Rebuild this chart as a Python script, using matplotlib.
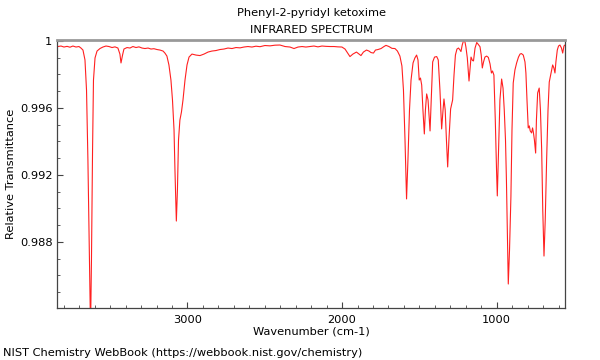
import matplotlib
matplotlib.use('Agg')
import matplotlib.pyplot as plt
from matplotlib.ticker import MultipleLocator, FuncFormatter

# spectrum (wavenumber in cm-1, relative transmittance)
wavenumber = [
    3838, 3818, 3799, 3779, 3760, 3741, 3721, 3702, 3689, 3676,
    3663, 3653, 3644, 3634, 3627, 3621, 3614, 3608, 3598, 3585,
    3566, 3547, 3527, 3508, 3488, 3469, 3450, 3437, 3430, 3420,
    3411, 3391, 3372, 3353, 3333, 3314, 3294, 3275, 3255, 3236,
    3217, 3197, 3178, 3158, 3146, 3133, 3120, 3107, 3097, 3087,
    3081, 3072, 3065, 3058, 3049, 3039, 3029, 3016, 3003, 2990,
    2971, 2945, 2919, 2893, 2867, 2842, 2816, 2790, 2764, 2738,
    2712, 2686, 2660, 2635, 2609, 2583, 2557, 2531, 2499, 2466,
    2434, 2402, 2369, 2337, 2311, 2285, 2259, 2234, 2208, 2182,
    2156, 2130, 2104, 2078, 2052, 2027, 2001, 1981, 1968, 1949,
    1930, 1907, 1891, 1878, 1862, 1842, 1826, 1813, 1797, 1784,
    1768, 1748, 1729, 1716, 1697, 1677, 1658, 1642, 1626, 1613,
    1603, 1593, 1583, 1574, 1564, 1554, 1541, 1529, 1518, 1509,
    1501, 1493, 1485, 1477, 1468, 1461, 1453, 1444, 1431, 1422,
    1414, 1402, 1388, 1378, 1367, 1356, 1347, 1341, 1333, 1325,
    1317, 1309, 1298, 1285, 1276, 1267, 1257, 1247, 1237, 1231,
    1223, 1215, 1205, 1199, 1190, 1179, 1171, 1166, 1157, 1150,
    1140, 1129, 1121, 1108, 1100, 1093, 1085, 1076, 1065, 1054,
    1043, 1034, 1027, 1018, 1009, 1001, 996, 988, 979, 968,
    959, 951, 943, 937, 930, 925, 917, 908, 901, 893,
    882, 871, 859, 849, 840, 828, 817, 811, 804, 796,
    789, 783, 774, 768, 763, 756, 748, 743, 735, 725,
    717, 709, 702, 694, 686, 677, 668, 660, 652, 638,
    630, 623, 617, 608, 600, 591, 581, 573, 565, 558,
]
transmittance = [
    0.99967, 0.99970, 0.99964, 0.99968, 0.99963, 0.99970, 0.99964, 0.99967, 0.99958, 0.99946,
    0.99887, 0.99707, 0.99290, 0.98693, 0.98275, 0.98693, 0.99349, 0.99767, 0.99899, 0.99940,
    0.99955, 0.99964, 0.99970, 0.99967, 0.99961, 0.99965, 0.99958, 0.99922, 0.99869, 0.99916,
    0.99952, 0.99961, 0.99958, 0.99967, 0.99961, 0.99965, 0.99958, 0.99955, 0.99958, 0.99952,
    0.99954, 0.99949, 0.99946, 0.99940, 0.99928, 0.99910, 0.99857, 0.99767, 0.99648, 0.99469,
    0.99230, 0.98925, 0.99110, 0.99409, 0.99528, 0.99576, 0.99648, 0.99767, 0.99857, 0.99904,
    0.99922, 0.99916, 0.99913, 0.99922, 0.99934, 0.99940, 0.99943, 0.99949, 0.99952, 0.99958,
    0.99955, 0.99961, 0.99959, 0.99964, 0.99967, 0.99964, 0.99969, 0.99966, 0.99973, 0.99971,
    0.99975, 0.99976, 0.99967, 0.99964, 0.99955, 0.99964, 0.99967, 0.99964, 0.99967, 0.99970,
    0.99965, 0.99970, 0.99968, 0.99967, 0.99967, 0.99965, 0.99964, 0.99952, 0.99934, 0.99907,
    0.99922, 0.99934, 0.99922, 0.99913, 0.99934, 0.99946, 0.99940, 0.99931, 0.99928, 0.99946,
    0.99949, 0.99955, 0.99967, 0.99974, 0.99967, 0.99956, 0.99955, 0.99940, 0.99910, 0.99851,
    0.99707, 0.99409, 0.99057, 0.99290, 0.99588, 0.99767, 0.99869, 0.99899, 0.99916, 0.99887,
    0.99767, 0.99779, 0.99737, 0.99588, 0.99445, 0.99588, 0.99684, 0.99648, 0.99463, 0.99678,
    0.99875, 0.99904, 0.99907, 0.99887, 0.99707, 0.99475, 0.99588, 0.99654, 0.99588, 0.99409,
    0.99248, 0.99409, 0.99594, 0.99648, 0.99797, 0.99916, 0.99952, 0.99958, 0.99946, 0.99937,
    0.99976, 1.00000, 0.99994, 0.99964, 0.99899, 0.99761, 0.99845, 0.99904, 0.99884, 0.99881,
    0.99958, 0.99991, 0.99982, 0.99966, 0.99916, 0.99839, 0.99875, 0.99904, 0.99910, 0.99902,
    0.99863, 0.99809, 0.99821, 0.99797, 0.99528, 0.99230, 0.99075, 0.99349, 0.99648, 0.99773,
    0.99719, 0.99588, 0.99409, 0.99170, 0.98812, 0.98549, 0.98752, 0.99069, 0.99469, 0.99749,
    0.99827, 0.99869, 0.99904, 0.99922, 0.99925, 0.99916, 0.99875, 0.99809, 0.99648, 0.99481,
    0.99493, 0.99463, 0.99451, 0.99481, 0.99457, 0.99409, 0.99331, 0.99528, 0.99690, 0.99719,
    0.99588, 0.99349, 0.98991, 0.98716, 0.98931, 0.99290, 0.99588, 0.99755, 0.99791, 0.99857,
    0.99839, 0.99809, 0.99875, 0.99946, 0.99970, 0.99976, 0.99958, 0.99928, 0.99970, 0.99976,
]

compound = 'Phenyl-2-pyridyl ketoxime'
source = 'NIST Chemistry WebBook (https://webbook.nist.gov/chemistry)'

plt.rcParams['font.family'] = 'DejaVu Sans'
plt.rcParams['font.size'] = 8.2

fig = plt.figure(figsize=(6, 3.6), dpi=100)
ax = fig.add_axes([0.0955, 0.1436, 0.8462, 0.7453])

ax.plot(wavenumber, transmittance, color='#ff2020', lw=0.8)

ax.set_xlim(3842, 558)
ax.set_ylim(0.98404, 1.00006)

ax.xaxis.set_major_locator(MultipleLocator(1000))
ax.xaxis.set_minor_locator(MultipleLocator(100))
ax.yaxis.set_major_locator(MultipleLocator(0.004))
ax.yaxis.set_minor_locator(MultipleLocator(0.001))
ax.yaxis.set_major_formatter(FuncFormatter(lambda v, p: f'{v:.3f}'.rstrip('0').rstrip('.')))
ax.xaxis.set_major_formatter(FuncFormatter(lambda v, p: f'{v:.0f}'))

ax.tick_params(which='both', direction='in', color='#444444', labelsize=8.2)
ax.tick_params(which='major', length=4.5, width=0.8)
ax.tick_params(which='minor', length=2.5, width=0.6)
ax.tick_params(axis='x', which='major', pad=5)

for side in ['left', 'right', 'bottom']:
    ax.spines[side].set_color('#444444')
    ax.spines[side].set_linewidth(0.9)
ax.spines['top'].set_color('#999999')
ax.spines['top'].set_linewidth(2)

ax.set_xlabel('Wavenumber (cm-1)', fontsize=8.2, labelpad=1)
ax.set_ylabel('Relative Transmittance', fontsize=8.2, labelpad=3)
ax.set_title(compound + '\nINFRARED SPECTRUM', fontsize=8.2, pad=5, linespacing=1.85)

fig.text(0.005, 0.012, source, fontsize=8.2)

fig.savefig('out.png', dpi=100)
